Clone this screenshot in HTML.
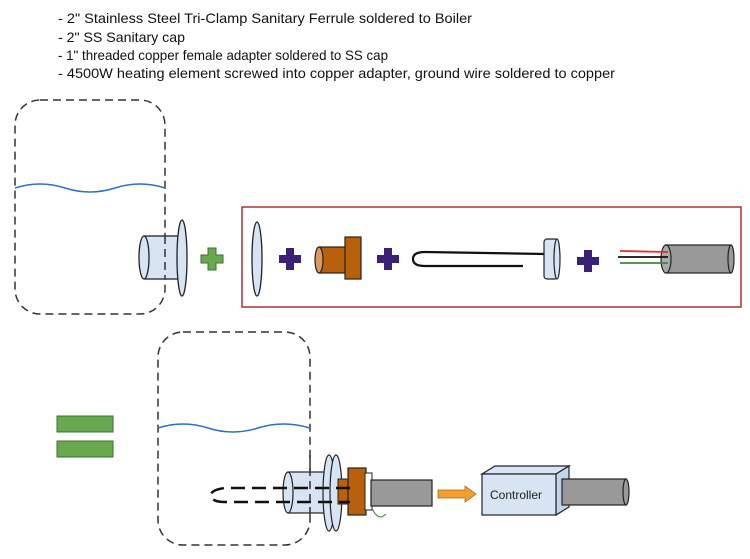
<!DOCTYPE html>
<html><head><meta charset="utf-8"><style>
html,body{margin:0;padding:0;background:#fff;}
svg{display:block;}
text{font-family:"Liberation Sans",sans-serif;}
</style></head><body>
<svg width="750" height="559" viewBox="0 0 750 559" xmlns="http://www.w3.org/2000/svg">
<g font-size="14" fill="#111">
<text x="58" y="23" textLength="414" lengthAdjust="spacingAndGlyphs">- 2" Stainless Steel Tri-Clamp Sanitary Ferrule soldered to Boiler</text>
<text x="58" y="42" textLength="127" lengthAdjust="spacingAndGlyphs">- 2" SS Sanitary cap</text>
<text x="58" y="60" textLength="330" lengthAdjust="spacingAndGlyphs">- 1" threaded copper female adapter soldered to SS cap</text>
<text x="58" y="78" textLength="557" lengthAdjust="spacingAndGlyphs">- 4500W heating element screwed into copper adapter, ground wire soldered to copper</text>
</g>
<!-- tank 1 -->
<rect x="15" y="100" width="150" height="214" rx="25" fill="none" stroke="#333" stroke-width="1.5" stroke-dasharray="8,5"/>
<path d="M15 188 Q40 180 65 188 T115 188 T165 188" fill="none" stroke="#2f6fbf" stroke-width="1.5"/>
<!-- ferrule -->
<rect x="144" y="236" width="36" height="43" fill="#d6e4f3" stroke="#222" stroke-width="1.3"/>
<ellipse cx="144" cy="257.5" rx="5" ry="21.5" fill="#d6e4f3" stroke="#222" stroke-width="1.3"/>
<line x1="165" y1="236" x2="165" y2="279" stroke="#333" stroke-dasharray="8,5" stroke-width="1.5"/>
<ellipse cx="182" cy="258" rx="5" ry="38" fill="#d6e4f3" stroke="#222" stroke-width="1.3"/>
<!-- green plus -->
<path d="M208 248h8v7h7v8h-7v7h-8v-7h-7v-8h7z" fill="#6aa84f" stroke="#3f6f2f" stroke-width="1"/>
<!-- red box -->
<rect x="242" y="207" width="499" height="100" fill="none" stroke="#a33" stroke-width="1.5"/>
<ellipse cx="257" cy="259" rx="5" ry="37" fill="#d6e4f3" stroke="#222" stroke-width="1.3"/>
<g fill="#3b2175"><path d="M286 248h8v7h7v8h-7v7h-8v-7h-7v-8h7z"/><path d="M384 248h8v7h7v8h-7v7h-8v-7h-7v-8h7z"/><path d="M584 250h8v7h7v8h-7v7h-8v-7h-7v-8h7z"/></g>
<!-- copper -->
<rect x="319" y="247" width="28" height="26" fill="#b8600b" stroke="#222" stroke-width="1.2"/>
<ellipse cx="319" cy="260" rx="4" ry="13" fill="#d89a60" stroke="#222" stroke-width="1.2"/>
<rect x="345" y="237" width="16" height="42" fill="#b8600b" stroke="#222" stroke-width="1.2"/>
<!-- element -->
<path d="M545 254 L425 252 Q413 252 413 259 Q413 266 425 266 L523 266" fill="none" stroke="#111" stroke-width="2.2"/>
<rect x="544" y="239" width="14" height="40" rx="3" fill="#d6e4f3" stroke="#222" stroke-width="1.2"/>
<ellipse cx="557" cy="259" rx="3" ry="20" fill="#d6e4f3" stroke="#222" stroke-width="1.2"/>
<!-- wire cable -->
<rect x="666" y="245" width="65" height="28" fill="#999" stroke="#222" stroke-width="1.2"/>
<ellipse cx="731" cy="259" rx="3" ry="14" fill="#999" stroke="#222" stroke-width="1.2"/>
<ellipse cx="666" cy="259" rx="5" ry="14" fill="#aaa" stroke="#222" stroke-width="1.2"/>
<line x1="620" y1="251" x2="668" y2="252" stroke="#e03030" stroke-width="1.8"/>
<line x1="618" y1="257" x2="668" y2="257" stroke="#111" stroke-width="1.8"/>
<line x1="620" y1="263" x2="668" y2="263" stroke="#3a8a3a" stroke-width="1.8"/>
<!-- equals -->
<rect x="57" y="416" width="56" height="16" fill="#6aa84f" stroke="#3f6f2f"/>
<rect x="57" y="441" width="56" height="16" fill="#6aa84f" stroke="#3f6f2f"/>
<!-- tank 2 -->
<rect x="158" y="332" width="152" height="213" rx="25" fill="none" stroke="#333" stroke-width="1.5" stroke-dasharray="8,5"/>
<path d="M158 428 Q183 420 208 428 T258 428 T310 428" fill="none" stroke="#2f6fbf" stroke-width="1.5"/>
<!-- assembly -->
<rect x="288" y="472" width="40" height="41" fill="#d6e4f3" stroke="#222" stroke-width="1.2"/>
<ellipse cx="288" cy="492.5" rx="5" ry="20.5" fill="#d6e4f3" stroke="#222" stroke-width="1.2"/>
<ellipse cx="329" cy="493" rx="6" ry="38" fill="#d6e4f3" stroke="#222" stroke-width="1.2"/>
<ellipse cx="336" cy="493" rx="6" ry="38" fill="#d6e4f3" stroke="#222" stroke-width="1.2"/>
<line x1="310" y1="455" x2="310" y2="520" stroke="#333" stroke-dasharray="8,5" stroke-width="1.5"/>
<rect x="338" y="479" width="12" height="25" fill="#b8600b" stroke="#222" stroke-width="1"/>
<rect x="348" y="468" width="18" height="47" fill="#b8600b" stroke="#222" stroke-width="1.2"/>
<rect x="365" y="473" width="7" height="37" fill="#fff" stroke="#222" stroke-width="1"/>
<rect x="371" y="480" width="61" height="26" fill="#999" stroke="#222" stroke-width="1.2"/>
<path d="M372 508 Q378 522 386 514" fill="none" stroke="#3a8a3a" stroke-width="1"/>
<path d="M350 488 L225 488 Q210 490 211 496 Q212 502 225 502 L350 502" fill="none" stroke="#111" stroke-width="2.5" stroke-dasharray="14,7"/>
<!-- arrow -->
<path d="M438 490 H465 V486 L476 494 L465 502 V498 H438 Z" fill="#f0a030" stroke="#b06a10" stroke-width="0.8"/>
<!-- controller -->
<path d="M482 474 L495 466 H569 L556 474 Z" fill="#d6e4f3" stroke="#222" stroke-width="1.2"/>
<path d="M556 474 L569 466 V507 L556 515 Z" fill="#c3d5ea" stroke="#222" stroke-width="1.2"/>
<rect x="482" y="474" width="74" height="41" fill="#d6e4f3" stroke="#222" stroke-width="1.2"/>
<text x="490" y="499" font-size="12" fill="#222">Controller</text>
<rect x="562" y="479" width="64" height="26" fill="#999" stroke="#222" stroke-width="1.2"/>
<ellipse cx="626" cy="492" rx="3" ry="13" fill="#999" stroke="#222" stroke-width="1.2"/>
</svg>
</body></html>
